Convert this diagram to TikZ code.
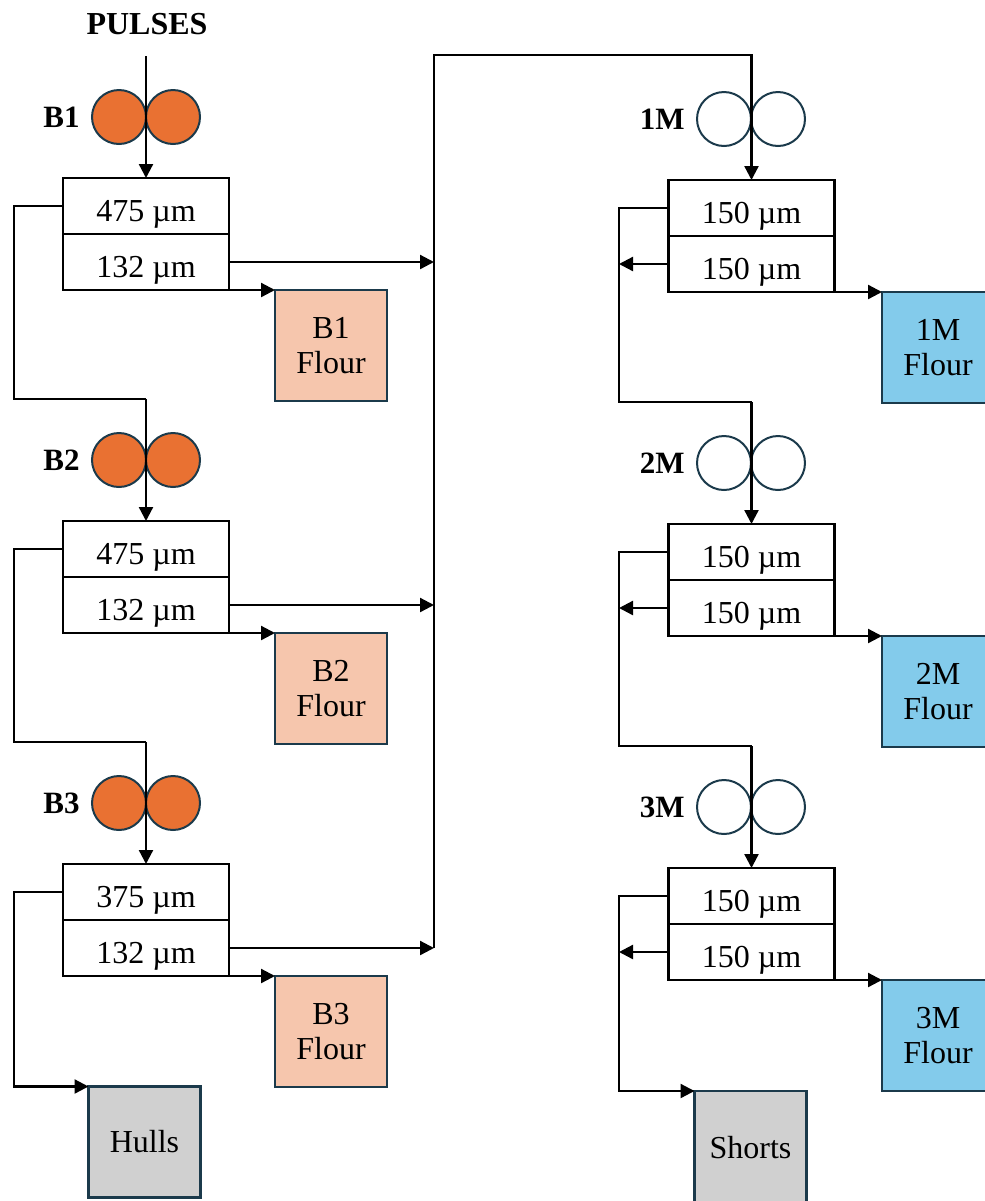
\documentclass[tikz,border=0pt]{standalone}
\usepackage{fontspec}
\setmainfont{Liberation Serif}
\usetikzlibrary{positioning}
\usetikzlibrary{arrows.meta}

\definecolor{rollorange}{HTML}{E97132}
\definecolor{rollline}{HTML}{1B3A4B}
\definecolor{breakflour}{HTML}{F6C6AD}
\definecolor{millflour}{HTML}{83CBEB}
\definecolor{offcut}{HTML}{D0D0D0}

\tikzset{
    sieve/.style={draw, line width=1.2pt, minimum width=83pt, minimum height=28pt,
        text height=15pt, text depth=0pt, inner sep=0pt, outer sep=0pt},
    roll/.style={circle, draw=rollline, line width=1pt, minimum size=27pt,
        inner sep=0pt, outer sep=0pt},
    product/.style={draw=rollline, line width=1.1pt, minimum width=56pt,
        minimum height=55.5pt, inner sep=0pt, outer sep=0pt, align=center},
    pass/.style={font=\fontsize{15.5}{18}\selectfont\bfseries, inner sep=0pt},
    flow/.style={line width=1.15pt, -{Triangle[length=7pt, width=7pt]}},
    pipe/.style={line width=1.15pt}
}

\begin{document}
\begin{tikzpicture}[x=0.5pt, y=-0.5pt, font=\fontsize{16}{17.5}\selectfont]
\useasboundingbox (0,0) rectangle (985,1201);

\node[pass, font=\fontsize{16}{18}\selectfont\bfseries] (pulses) at (147,24) {PULSES};
\coordinate (joint) at (434,55);

% Break passages
\foreach \i/\mesh/\yy in {1/475/178, 2/475/521, 3/375/864} {
    \node[roll, fill=rollorange] (B\i-l) at (119,\yy-61) {};
    \node[roll, fill=rollorange] (B\i-r) at (173,\yy-61) {};
    \node[pass, left=6pt of B\i-l] (B\i-name) {B\i};
    \node[sieve] (B\i-top) at (146,\yy+28) {\mesh\ µm};
    \node[sieve, below=0pt of B\i-top] (B\i-bot) {132 µm};
    \node[product, fill=breakflour] (B\i-flour) at (331,\yy+167.5) {B\i\\Flour};
    \coordinate (B\i-in) at (146,\yy-122);
    \coordinate (B\i-ret) at (14,\yy);
}

% Reduction passages
\foreach \i/\yy in {1/180, 2/524, 3/868} {
    \node[roll, fill=white] (M\i-l) at (724,\yy-61) {};
    \node[roll, fill=white] (M\i-r) at (778,\yy-61) {};
    \node[pass, left=6pt of M\i-l] (M\i-name) {\i M};
    \node[sieve] (M\i-top) at (751.5,\yy+28) {150 µm};
    \node[sieve, below=0pt of M\i-top] (M\i-bot) {150 µm};
    \node[product, fill=millflour] (M\i-flour) at (938,\yy+167.5) {\i M\\Flour};
    \coordinate (M\i-in) at (751.5,\yy-122);
    \coordinate (M\i-ret) at (619,\yy);
}

\node[product, fill=offcut] (hulls) at (144.5,1142) {Hulls};
\node[product, fill=offcut, minimum height=57pt] (shorts) at (750.5,1148) {Shorts};

% Break flows
\foreach \i in {1,2,3} {
    \draw[flow] (B\i-in) -- (B\i-top.north);
    \draw[flow] (B\i-bot.south east) -- (B\i-flour.north west);
    \draw[flow] (B\i-bot.east) -- (B\i-bot.east -| joint);
}
\foreach \i/\j in {1/2, 2/3}
    \draw[pipe] (B\i-top.west) -- (B\i-top.west -| B\i-ret) |- (B\j-in);
\draw[flow] (B3-top.west) -- (B3-top.west -| B3-ret) |- (hulls.north west);

% Collector to 1M
\draw[flow] (B3-bot.east -| joint) -- (joint) -| (M1-top.north);

% Reduction flows
\foreach \i in {2,3}
    \draw[flow] (M\i-in) -- (M\i-top.north);
\foreach \i in {1,2,3} {
    \draw[flow] (M\i-bot.south east) -- (M\i-flour.north west);
    \draw[flow] (M\i-bot.west) -- (M\i-bot.west -| M\i-ret);
}
\foreach \i/\j in {1/2, 2/3}
    \draw[pipe] (M\i-top.west) -- (M\i-top.west -| M\i-ret) |- (M\j-in);
\draw[flow] (M3-top.west) -- (M3-top.west -| M3-ret) |- (shorts.north west);
\end{tikzpicture}
\end{document}
